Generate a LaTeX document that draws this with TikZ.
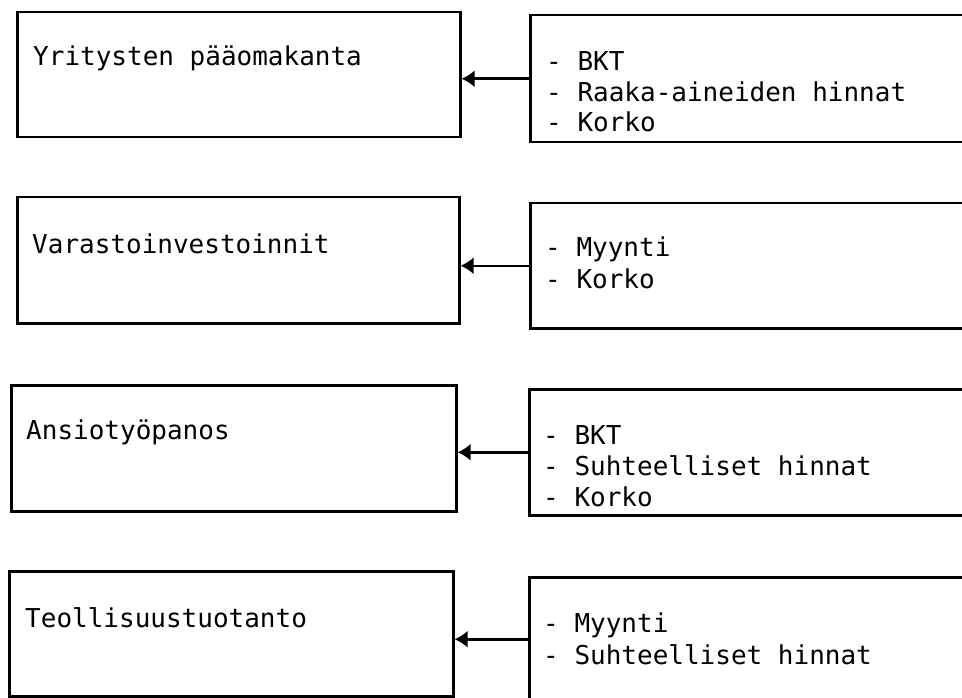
\documentclass[tikz,border=0pt]{standalone}
\usepackage{fontspec}
\setmonofont{DejaVu Sans Mono}
\usetikzlibrary{arrows.meta}
\tikzset{
  box/.style={draw, line width=2.5pt, rectangle, anchor=north west, inner sep=0pt},
  txt/.style={anchor=base west, inner sep=0pt, font=\ttfamily\fontsize{26}{31}\selectfont},
  link/.style={line width=2.5pt, -{Latex[length=13pt,width=17pt]}}
}
\begin{document}
\begin{tikzpicture}[x=1pt,y=-1pt]
\useasboundingbox (0,0) rectangle (962,698);
\clip (0,0) rectangle (962,698);
% row 1
\node[box, minimum width=443pt, minimum height=125pt] (l1) at (16,11) {};
\node[box, minimum width=480pt, minimum height=127pt] (r1) at (529,14) {};
\node[txt] (t1) at (33,66) {Yritysten pääomakanta};
\node[txt] (a1) at (546,71) {- BKT};
\node[txt] (a2) at (546,102) {- Raaka-aineiden hinnat};
\node[txt] (a3) at (546,132) {- Korko};
\draw[link] (r1.west) -- (r1.west -| l1.east);
% row 2
\node[box, minimum width=442pt, minimum height=126pt] (l2) at (16,196) {};
\node[box, minimum width=480pt, minimum height=125pt] (r2) at (529,202) {};
\node[txt] (t2) at (32,253) {Varastoinvestoinnit};
\node[txt] (b1) at (545,256) {- Myynti};
\node[txt] (b2) at (545,288) {- Korko};
\draw[link] (r2.west) -- (r2.west -| l2.east);
% row 3
\node[box, minimum width=445pt, minimum height=126pt] (l3) at (10,384) {};
\node[box, minimum width=480pt, minimum height=126pt] (r3) at (528,388) {};
\node[txt] (t3) at (26,439) {Ansiotyöpanos};
\node[txt] (c1) at (543,444) {- BKT};
\node[txt] (c2) at (543,475) {- Suhteelliset hinnat};
\node[txt] (c3) at (543,506) {- Korko};
\draw[link] (r3.west) -- (r3.west -| l3.east);
% row 4
\node[box, minimum width=444pt, minimum height=125pt] (l4) at (8,570) {};
\node[box, minimum width=480pt, minimum height=124pt] (r4) at (528,576) {};
\node[txt] (t4) at (25,627) {Teollisuustuotanto};
\node[txt] (d1) at (543,632) {- Myynti};
\node[txt] (d2) at (543,664) {- Suhteelliset hinnat};
\draw[link] (r4.west) -- (r4.west -| l4.east);
\end{tikzpicture}
\end{document}
